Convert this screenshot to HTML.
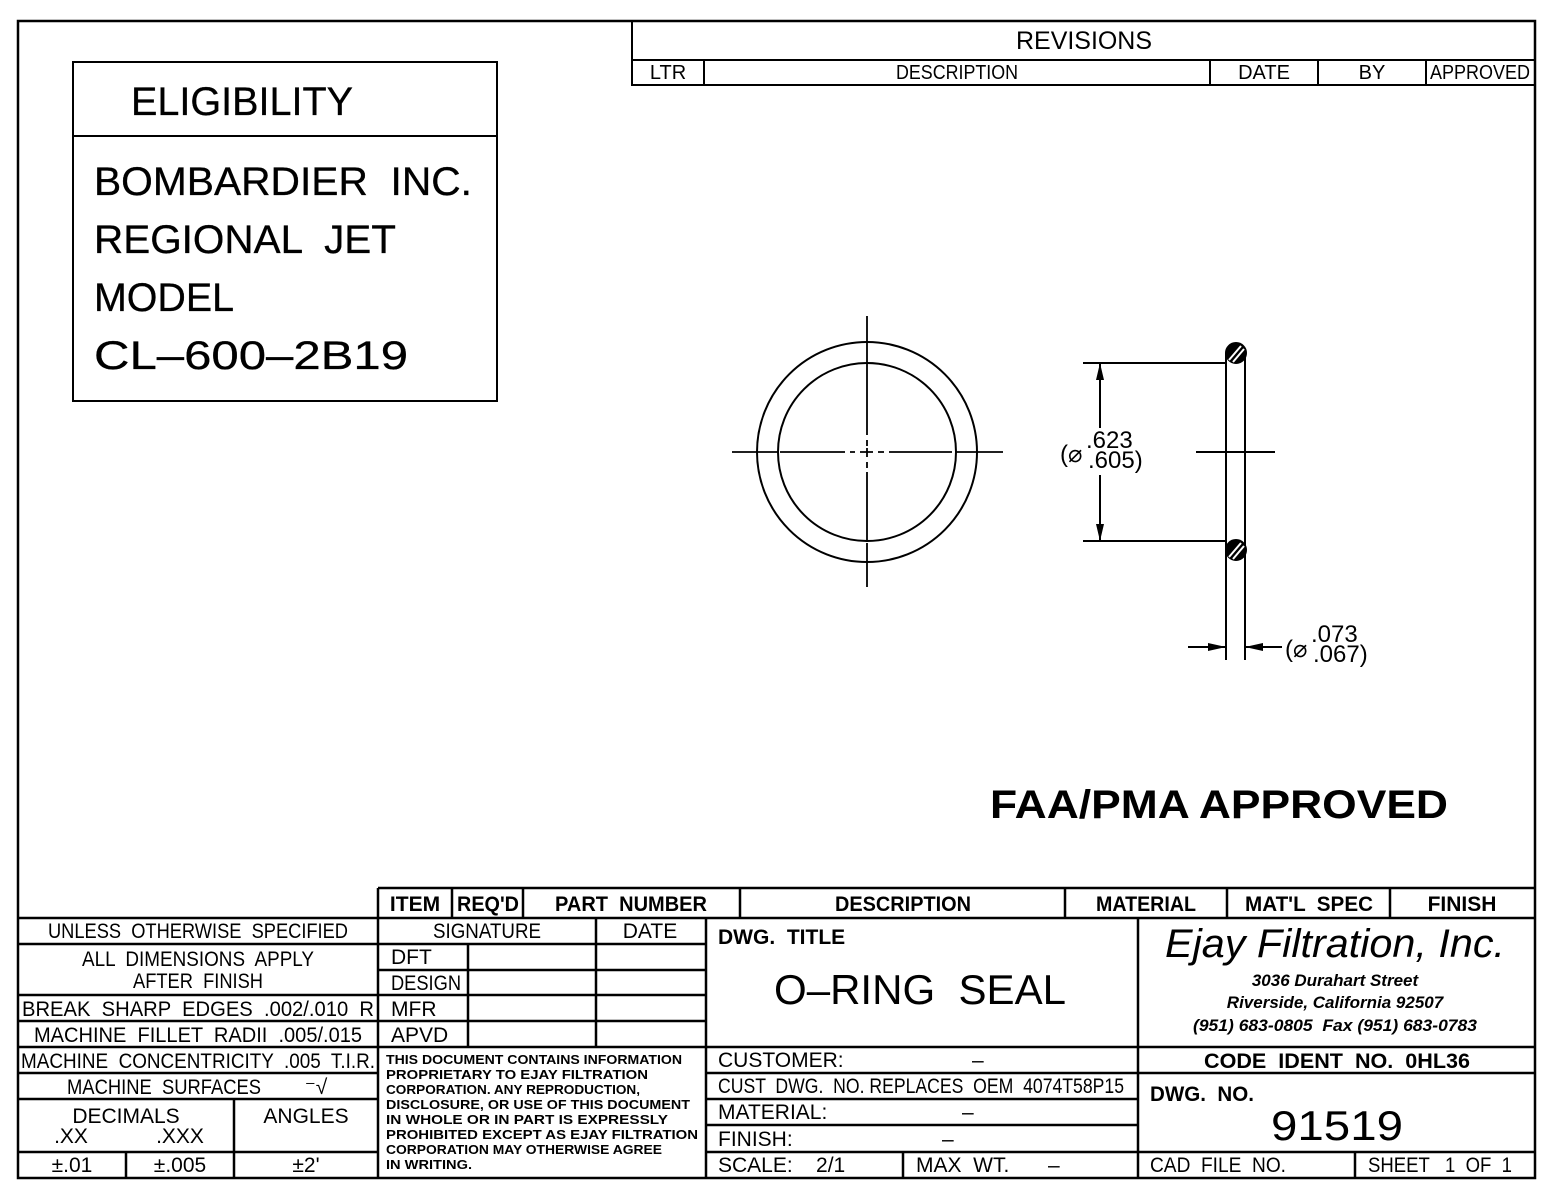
<!DOCTYPE html>
<html><head><meta charset="utf-8"><style>
html,body{margin:0;padding:0;background:#fff}
svg{display:block}
text{font-family:"Liberation Sans",sans-serif;fill:#000;white-space:pre}
.b{font-weight:bold}
</style></head><body>
<svg width="1553" height="1200" viewBox="0 0 1553 1200" xmlns="http://www.w3.org/2000/svg" xml:space="preserve">
<g stroke="#000" fill="none" stroke-width="2">
<path d="M18 21 H1535 V1178 H18 Z" stroke-width="2.5"/>
<path d="M632 21 V85 H1535 M632 60 H1535 M704 60 V85 M1210 60 V85 M1318 60 V85 M1426 60 V85"/>
<rect x="73" y="62" width="424" height="339"/>
<path d="M73 136 H497"/>
<circle cx="867" cy="452" r="110"/>
<circle cx="867" cy="452" r="89"/>
<g stroke-width="1.8">
<path d="M732 452 H778 M780 452 H845 M850 452 H855 M860 452 H873 M878 452 H884 M889 452 H952 M956 452 H1003"/>
<path d="M867 316 V362 M867 364 V435 M867 440 V446 M867 448 V457 M867 462 V468 M867 472 V540 M867 543 V587"/>
</g>
<path d="M1226 353 V660 M1245 353 V660"/>
<circle cx="1236" cy="353" r="10" fill="#000"/>
<circle cx="1236" cy="550" r="10" fill="#000"/>
<path d="M1229 360 L1241 346 M1233 362 L1244 349 M1229 557 L1241 543 M1233 559 L1244 546" stroke="#fff" stroke-width="2"/>
<path d="M1083 363 H1226 M1083 541 H1226 M1100 363 V428 M1100 475 V541 M1196 452 H1275"/>
<path d="M1188 647 H1226 M1245 647 H1282"/>
</g>
<g fill="#000">
<path d="M1100 363 L1096 380 L1104 380 Z M1100 541 L1096 524 L1104 524 Z"/>
<path d="M1226 647 L1208 643 L1208 651 Z M1245 647 L1263 643 L1263 651 Z"/>
</g>
<text x="1060" y="462" font-size="24">(⌀</text>
<text x="1086" y="448" font-size="24">.623</text>
<text x="1088" y="468" font-size="24">.605)</text>
<text x="1285" y="657" font-size="24">(⌀</text>
<text x="1311" y="642" font-size="24">.073</text>
<text x="1313" y="662" font-size="24">.067)</text>

<text x="1084" y="49" font-size="25" text-anchor="middle" textLength="136" lengthAdjust="spacingAndGlyphs">REVISIONS</text>
<text x="668" y="79" font-size="20" text-anchor="middle">LTR</text>
<text x="957" y="79" font-size="20" text-anchor="middle" textLength="122" lengthAdjust="spacingAndGlyphs">DESCRIPTION</text>
<text x="1264" y="79" font-size="20" text-anchor="middle">DATE</text>
<text x="1372" y="79" font-size="20" text-anchor="middle">BY</text>
<text x="1480" y="79" font-size="20" text-anchor="middle" textLength="100" lengthAdjust="spacingAndGlyphs">APPROVED</text>

<g font-size="40" stroke="#000" stroke-width="0.3">
<text x="131" y="115" textLength="222" lengthAdjust="spacingAndGlyphs">ELIGIBILITY</text>
<text x="94" y="195" textLength="378" lengthAdjust="spacingAndGlyphs">BOMBARDIER  INC.</text>
<text x="94" y="253" textLength="302" lengthAdjust="spacingAndGlyphs">REGIONAL  JET</text>
<text x="94" y="311" textLength="140" lengthAdjust="spacingAndGlyphs">MODEL</text>
<text x="94" y="369" textLength="314" lengthAdjust="spacingAndGlyphs">CL–600–2B19</text>
</g>

<text x="990" y="818" font-size="40" class="b" textLength="458" lengthAdjust="spacingAndGlyphs">FAA/PMA APPROVED</text>

<g stroke="#000" fill="none" stroke-width="2.5">
<path d="M378 888 H1535 M378 888 V1178 M18 918 H1535 M452 888 V918 M523 888 V918 M740 888 V918 M1065 888 V918 M1227 888 V918 M1390 888 V918"/>
<path d="M18 944 H706 M18 995 H378 M18 1021 H378 M18 1047 H1535 M18 1073 H378 M18 1099 H378 M18 1152 H378 M234 1099 V1178 M126 1152 V1178"/>
<path d="M378 970 H706 M378 995 H706 M378 1021 H706 M468 944 V1047 M596 918 V1047 M706 918 V1178"/>
<path d="M706 1073 H1138 M706 1099 H1138 M706 1125 H1138 M706 1152 H1535 M903 1152 V1178 M1138 918 V1178 M1138 1073 H1535 M1355 1152 V1178"/>
</g>

<g font-size="21" text-anchor="middle">
<text x="415" y="911" class="b">ITEM</text>
<text x="488" y="911" class="b" textLength="62" lengthAdjust="spacingAndGlyphs">REQ'D</text>
<text x="631" y="911" class="b" textLength="152" lengthAdjust="spacingAndGlyphs">PART  NUMBER</text>
<text x="903" y="911" class="b" textLength="136" lengthAdjust="spacingAndGlyphs">DESCRIPTION</text>
<text x="1146" y="911" class="b" textLength="100" lengthAdjust="spacingAndGlyphs">MATERIAL</text>
<text x="1309" y="911" class="b" textLength="128" lengthAdjust="spacingAndGlyphs">MAT'L  SPEC</text>
<text x="1462" y="911" class="b">FINISH</text>

<text x="198" y="938" textLength="300" lengthAdjust="spacingAndGlyphs">UNLESS  OTHERWISE  SPECIFIED</text>
<text x="198" y="966" textLength="232" lengthAdjust="spacingAndGlyphs">ALL  DIMENSIONS  APPLY</text>
<text x="198" y="988" textLength="130" lengthAdjust="spacingAndGlyphs">AFTER  FINISH</text>
<text x="198" y="1016" textLength="352" lengthAdjust="spacingAndGlyphs">BREAK  SHARP  EDGES  .002/.010  R</text>
<text x="198" y="1042" textLength="328" lengthAdjust="spacingAndGlyphs">MACHINE  FILLET  RADII  .005/.015</text>
<text x="198" y="1068" textLength="354" lengthAdjust="spacingAndGlyphs">MACHINE  CONCENTRICITY  .005  T.I.R.</text>
<text x="164" y="1094" textLength="194" lengthAdjust="spacingAndGlyphs">MACHINE  SURFACES</text>
<text x="316" y="1094">⁻√</text>
<text x="126" y="1123">DECIMALS</text>
<text x="71" y="1143">.XX</text>
<text x="180" y="1143">.XXX</text>
<text x="306" y="1123">ANGLES</text>
<text x="72" y="1172">±.01</text>
<text x="180" y="1172">±.005</text>
<text x="306" y="1172">±2'</text>
<text x="487" y="938" textLength="108" lengthAdjust="spacingAndGlyphs">SIGNATURE</text>
<text x="650" y="938">DATE</text>
</g>
<g font-size="21">
<text x="391" y="964">DFT</text>
<text x="391" y="990" textLength="70" lengthAdjust="spacingAndGlyphs">DESIGN</text>
<text x="391" y="1016">MFR</text>
<text x="391" y="1042">APVD</text>
<text x="718" y="944" class="b">DWG.  TITLE</text>
<text x="718" y="1067">CUSTOMER:</text>
<text x="972" y="1067">–</text>
<text x="718" y="1093" textLength="406" lengthAdjust="spacingAndGlyphs">CUST  DWG.  NO. REPLACES  OEM  4074T58P15</text>
<text x="718" y="1119">MATERIAL:</text>
<text x="962" y="1119">–</text>
<text x="718" y="1146">FINISH:</text>
<text x="942" y="1146">–</text>
<text x="718" y="1172">SCALE:    2/1</text>
<text x="916" y="1172">MAX  WT.</text>
<text x="1048" y="1172">–</text>
<text x="1150" y="1101" class="b" textLength="104" lengthAdjust="spacingAndGlyphs">DWG.  NO.</text>
<text x="1150" y="1172" textLength="136" lengthAdjust="spacingAndGlyphs">CAD  FILE  NO.</text>
<text x="1368" y="1172" textLength="144" lengthAdjust="spacingAndGlyphs">SHEET   1  OF  1</text>
</g>
<text x="1337" y="1068" font-size="21" class="b" text-anchor="middle" textLength="266" lengthAdjust="spacingAndGlyphs">CODE  IDENT  NO.  0HL36</text>
<text x="920" y="1004" font-size="42" text-anchor="middle" textLength="292" lengthAdjust="spacingAndGlyphs">O–RING  SEAL</text>
<text x="1337" y="1140" font-size="42" text-anchor="middle" textLength="132" lengthAdjust="spacingAndGlyphs">91519</text>

<g style="font-family:'Liberation Serif',serif;font-style:italic" text-anchor="middle">
<text x="1335" y="957" font-size="40" textLength="340" lengthAdjust="spacingAndGlyphs">Ejay Filtration, Inc.</text>
<text x="1335" y="986" font-size="17" font-weight="bold">3036 Durahart Street</text>
<text x="1335" y="1008" font-size="17" font-weight="bold">Riverside, California 92507</text>
<text x="1335" y="1031" font-size="17" font-weight="bold" textLength="284" lengthAdjust="spacingAndGlyphs">(951) 683-0805  Fax (951) 683-0783</text>
</g>

<g font-size="13" class="b" style="font-family:'Liberation Mono',monospace">
<text x="386" y="1064" textLength="296" lengthAdjust="spacingAndGlyphs">THIS DOCUMENT CONTAINS INFORMATION</text>
<text x="386" y="1079" textLength="262" lengthAdjust="spacingAndGlyphs">PROPRIETARY TO EJAY FILTRATION</text>
<text x="386" y="1094" textLength="254" lengthAdjust="spacingAndGlyphs">CORPORATION. ANY REPRODUCTION,</text>
<text x="386" y="1109" textLength="304" lengthAdjust="spacingAndGlyphs">DISCLOSURE, OR USE OF THIS DOCUMENT</text>
<text x="386" y="1124" textLength="282" lengthAdjust="spacingAndGlyphs">IN WHOLE OR IN PART IS EXPRESSLY</text>
<text x="386" y="1139" textLength="312" lengthAdjust="spacingAndGlyphs">PROHIBITED EXCEPT AS EJAY FILTRATION</text>
<text x="386" y="1154" textLength="276" lengthAdjust="spacingAndGlyphs">CORPORATION MAY OTHERWISE AGREE</text>
<text x="386" y="1169" textLength="86" lengthAdjust="spacingAndGlyphs">IN WRITING.</text>
</g>
</svg>
</body></html>
